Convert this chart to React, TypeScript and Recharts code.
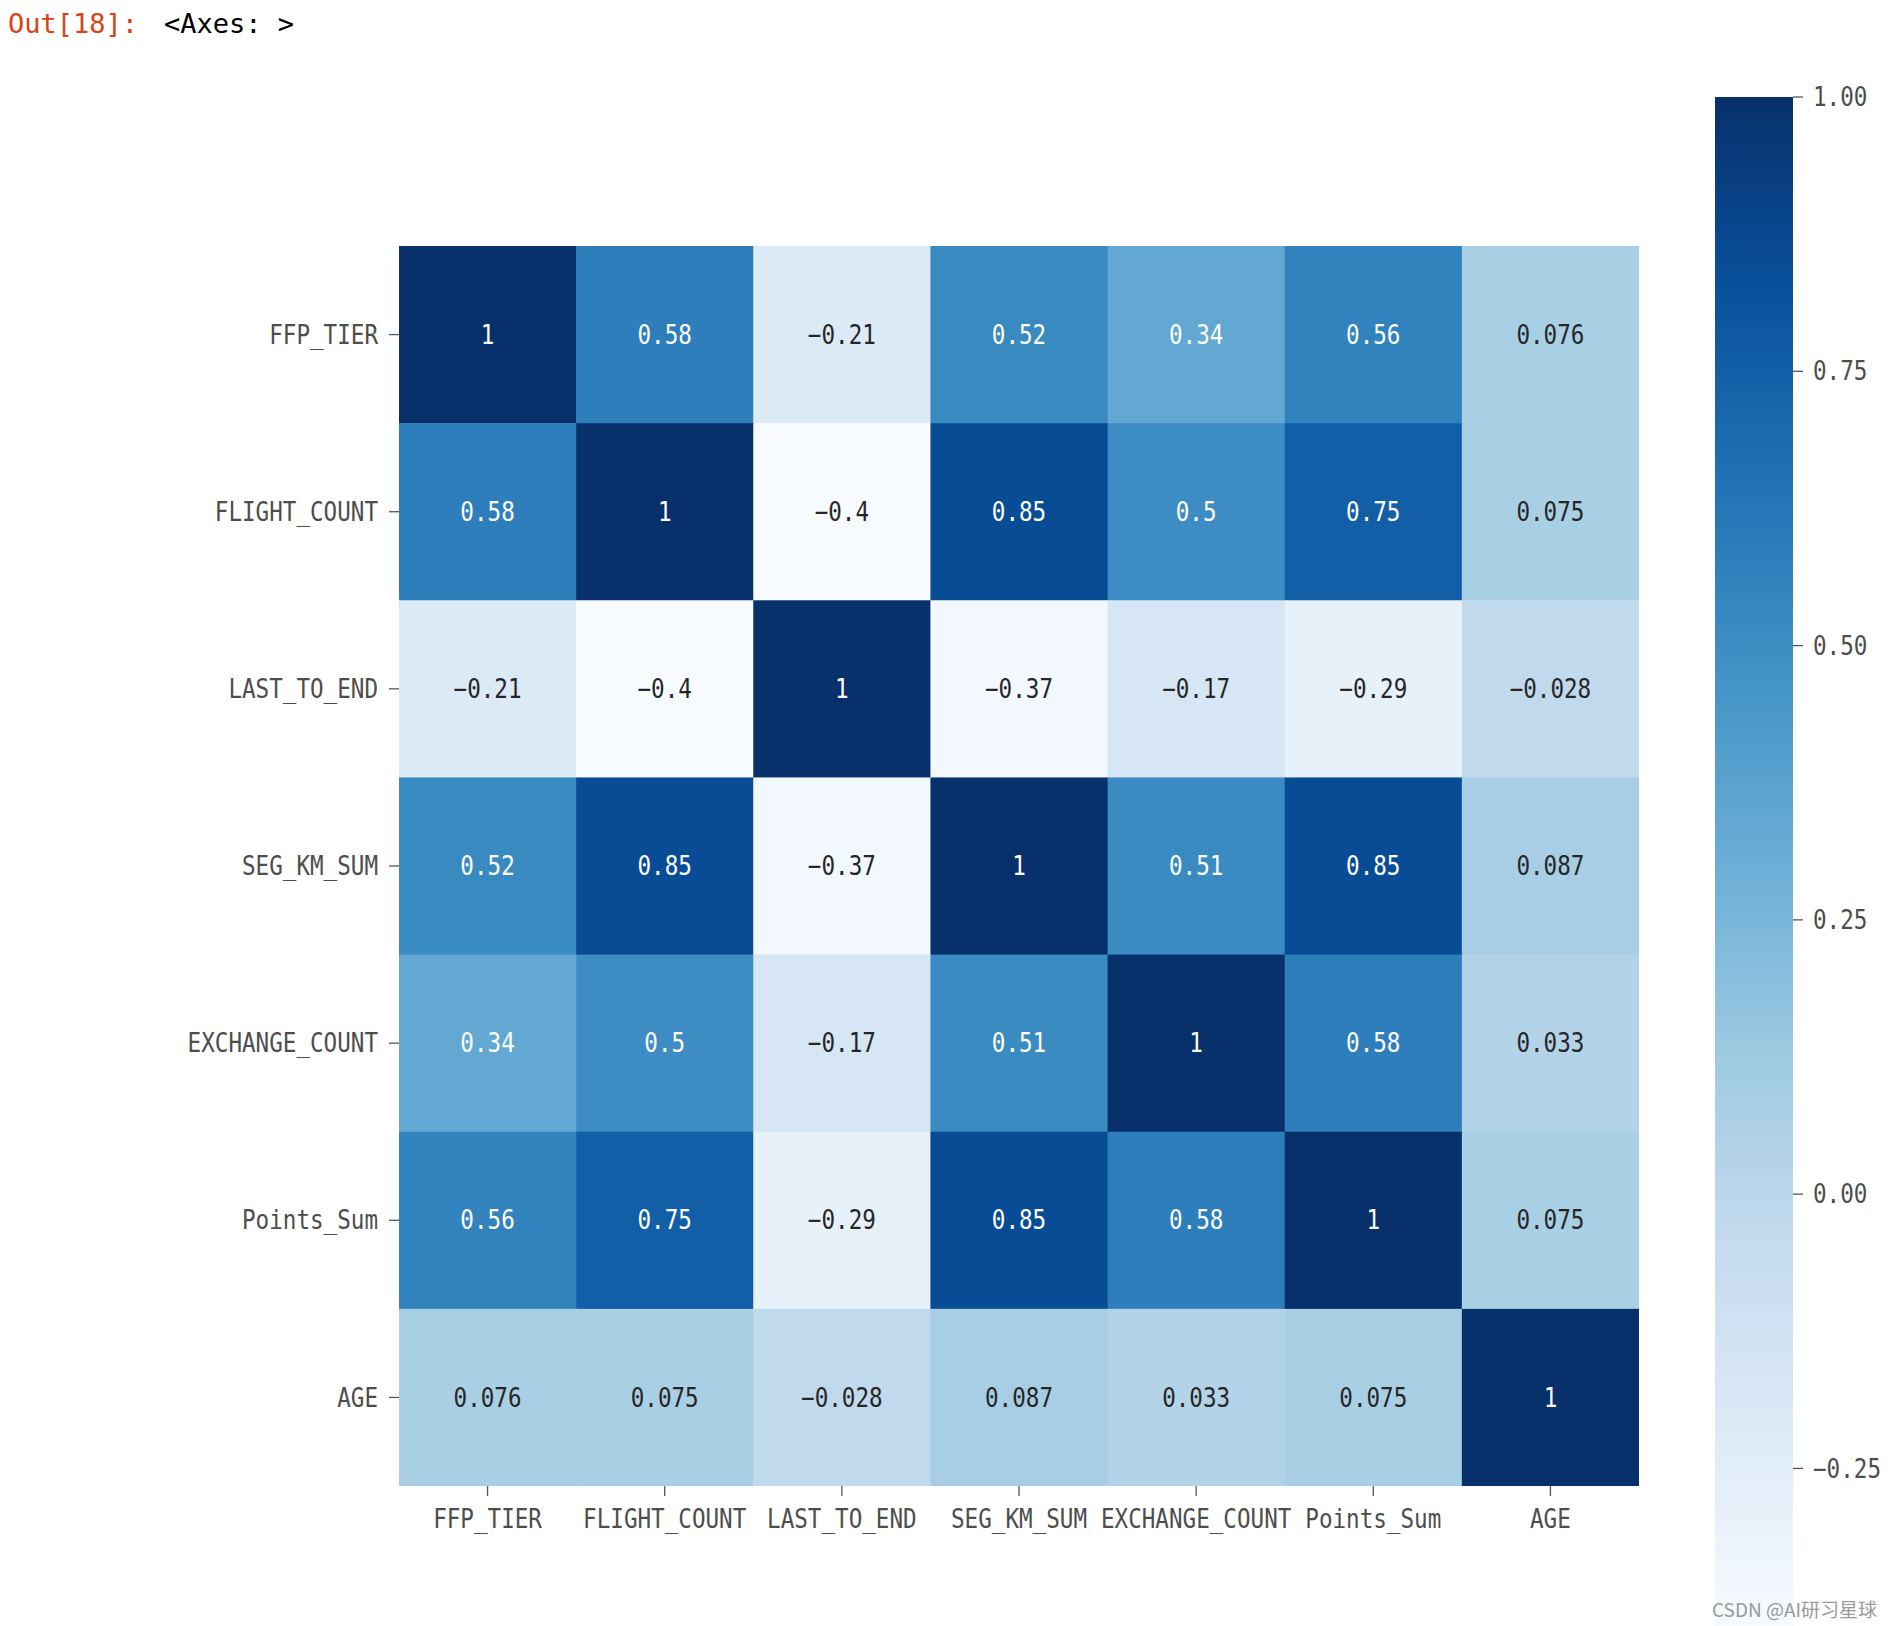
import React from 'react';
import { ScatterChart, Scatter, XAxis, YAxis, BarChart, Bar } from 'recharts';

// correlation matrix, one array per row
const labels = ['FFP_TIER', 'FLIGHT_COUNT', 'LAST_TO_END', 'SEG_KM_SUM', 'EXCHANGE_COUNT', 'Points_Sum', 'AGE'];
const ffpTier = [1, 0.58, -0.21, 0.52, 0.34, 0.56, 0.076];
const flightCount = [0.58, 1, -0.4, 0.85, 0.5, 0.75, 0.075];
const lastToEnd = [-0.21, -0.4, 1, -0.37, -0.17, -0.29, -0.028];
const segKmSum = [0.52, 0.85, -0.37, 1, 0.51, 0.85, 0.087];
const exchangeCount = [0.34, 0.5, -0.17, 0.51, 1, 0.58, 0.033];
const pointsSum = [0.56, 0.75, -0.29, 0.85, 0.58, 1, 0.075];
const age = [0.076, 0.075, -0.028, 0.087, 0.033, 0.075, 1];
const matrix = [ffpTier, flightCount, lastToEnd, segKmSum, exchangeCount, pointsSum, age];

const cbTicks = [-0.25, 0, 0.25, 0.5, 0.75, 1];
const vMin = -0.4;
const vMax = 1;

// matplotlib "Blues"
const BLUES = ['#f7fbff', '#deebf7', '#c6dbef', '#9ecae1', '#6baed6', '#4292c6', '#2171b5', '#08519c', '#08306b'];

const hex = (h: string) => [1, 3, 5].map(i => parseInt(h.slice(i, i + 2), 16));

function blues(v: number) {
  const t = Math.min(1, Math.max(0, (v - vMin) / (vMax - vMin))) * (BLUES.length - 1);
  const i = Math.min(BLUES.length - 2, Math.floor(t));
  const f = t - i;
  const a = hex(BLUES[i]), b = hex(BLUES[i + 1]);
  return a.map((c, k) => Math.round(c + (b[k] - c) * f));
}

function lum(rgb: number[]) {
  const lin = rgb.map(c => {
    const s = c / 255;
    return s <= 0.03928 ? s / 12.92 : Math.pow((s + 0.055) / 1.055, 2.4);
  });
  return 0.2126 * lin[0] + 0.7152 * lin[1] + 0.0722 * lin[2];
}

const fmt = (v: number) => {
  let s = v.toPrecision(2);
  if (s.includes('.')) s = s.replace(/0+$/, '').replace(/\.$/, '');
  return s.replace('-', '\u2212');
};

const cells = matrix.flatMap((row, i) => row.map((v, j) => ({ x: j + 0.5, y: i + 0.5, v })));

const FONT = 'DejaVu Sans Mono';
const FS = 26;
const ADV = 13.6;

function Mono({ x, y, text, anchor = 'middle', fill = '#4d4d4d', dy = '0.35em' }: any) {
  return (
    <text x={x} y={y} dy={dy} textAnchor={anchor} fill={fill} fontFamily={FONT} fontSize={FS}
      textLength={text.length * ADV} lengthAdjust="spacingAndGlyphs">
      {text}
    </text>
  );
}

const PLOT = 1240;
const CELL = PLOT / labels.length;

function HeatCell(props: any) {
  const { cx, cy, payload } = props;
  const rgb = blues(payload.v);
  const txt = lum(rgb) > 0.408 ? '#262626' : '#ffffff';
  return (
    <g>
      <rect x={cx - CELL / 2} y={cy - CELL / 2} width={CELL + 0.6} height={CELL + 0.6}
        fill={`rgb(${rgb.join(',')})`} />
      <Mono x={cx} y={cy} text={fmt(payload.v)} fill={txt} />
    </g>
  );
}

const XTick = ({ x, y, payload }: any) => (
  <Mono x={x} y={y} text={labels[Math.floor(payload.value)]} dy="0.72em" />
);
const YTick = ({ x, y, payload }: any) => (
  <Mono x={x} y={y} text={labels[Math.floor(payload.value)]} anchor="end" />
);
const CbTick = ({ x, y, payload }: any) => (
  <Mono x={x} y={y} text={payload.value.toFixed(2).replace('-', '\u2212')} anchor="start" />
);

const pos = labels.map((_, i) => i + 0.5);
const cbData = [{ name: 'cb', range: [vMin, vMax] }];

export default function App() {
  return (
    <div style={{ position: 'absolute', left: 0, top: 0, width: 1892, height: 1626, overflow: 'hidden', background: '#fff' }}>
      <div style={{ position: 'absolute', left: 8, top: 8, fontFamily: FONT, fontSize: 27, whiteSpace: 'pre' }}>
        <span style={{ color: '#d84315' }}>Out[18]:</span>
        <span style={{ color: '#000', marginLeft: 26 }}>{'<Axes: >'}</span>
      </div>

      <div style={{ position: 'absolute', left: 0, top: 0 }}>
        <ScatterChart width={1700} height={1626} margin={{ top: 246, right: 61, bottom: 40, left: 0 }}>
          <XAxis type="number" dataKey="x" domain={[0, 7]} ticks={pos} interval={0} allowDataOverflow
            axisLine={false} tickSize={10} tickMargin={13} height={100}
            tickLine={{ stroke: '#555', strokeWidth: 1.3 }} tick={<XTick />} />
          <YAxis type="number" dataKey="y" domain={[0, 7]} ticks={pos} interval={0} allowDataOverflow reversed
            axisLine={false} tickSize={10} tickMargin={11} width={399}
            tickLine={{ stroke: '#555', strokeWidth: 1.3 }} tick={<YTick />} />
          <Scatter data={cells} shape={HeatCell} isAnimationActive={false} />
        </ScatterChart>
      </div>

      <div style={{ position: 'absolute', left: 1715, top: 57 }}>
        <BarChart width={178} height={1586} data={cbData} margin={{ top: 40, right: 0, bottom: 10, left: 0 }}
          barCategoryGap={0}>
          <defs>
            <linearGradient id="bluesGrad" x1="0" y1="0" x2="0" y2="1">
              {BLUES.map((c, k) => (
                <stop key={k} offset={`${(k / (BLUES.length - 1)) * 100}%`} stopColor={BLUES[BLUES.length - 1 - k]} />
              ))}
            </linearGradient>
          </defs>
          <XAxis dataKey="name" hide height={0} />
          <YAxis orientation="right" domain={[vMin, vMax]} ticks={cbTicks} allowDataOverflow width={100}
            axisLine={false} tickSize={10} tickMargin={10}
            tickLine={{ stroke: '#555', strokeWidth: 1.3 }} tick={<CbTick />} />
          <Bar dataKey="range" fill="url(#bluesGrad)" isAnimationActive={false} />
        </BarChart>
      </div>

      <div style={{ position: 'absolute', left: 1712, top: 1595, fontFamily: '"Noto Sans CJK SC", sans-serif', fontSize: 19, color: '#9a9a9a', whiteSpace: 'nowrap' }}>
        CSDN @AI研习星球
      </div>
    </div>
  );
}
